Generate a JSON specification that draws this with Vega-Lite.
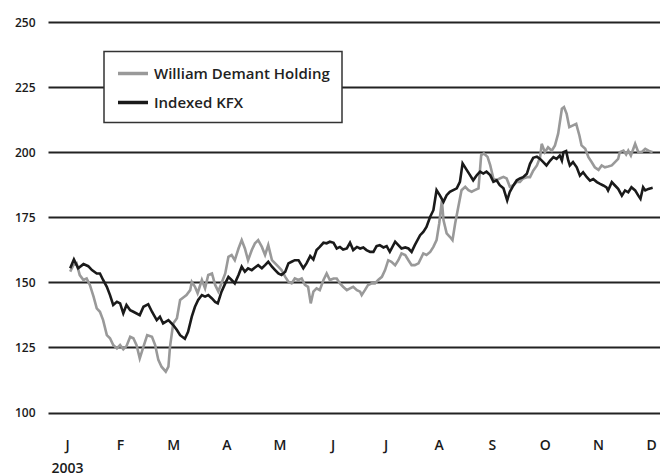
{
  "$schema": "https://vega.github.io/schema/vega-lite/v6.json",
  "width": 612,
  "height": 390.5,
  "autosize": "none",
  "padding": {"left": 48, "top": 22, "right": 0, "bottom": 63.5},
  "config": {"view": {"stroke": null}, "font": "Open Sans"},
  "datasets": {
    "wdh": [
      {"m":0.06,"v":154.1},{"m":0.12,"v":156.6},{"m":0.18,"v":157.3},{"m":0.24,"v":152.8},{"m":0.31,"v":150.9},{"m":0.37,"v":151.5},{"m":0.43,"v":149},{"m":0.5,"v":144.5},{"m":0.56,"v":140},{"m":0.62,"v":138.7},{"m":0.68,"v":135.5},{"m":0.75,"v":129.7},{"m":0.81,"v":128.5},{"m":0.87,"v":125.9},{"m":0.94,"v":124.6},{"m":1.0,"v":125.9},{"m":1.06,"v":124.3},{"m":1.12,"v":125.5},{"m":1.19,"v":129.1},{"m":1.25,"v":128.5},{"m":1.31,"v":125.9},{"m":1.37,"v":120.8},{"m":1.44,"v":125.3},{"m":1.51,"v":129.7},{"m":1.6,"v":129.1},{"m":1.66,"v":125.9},{"m":1.72,"v":120.2},{"m":1.78,"v":117.6},{"m":1.86,"v":115.7},{"m":1.91,"v":117.6},{"m":1.94,"v":125.3},{"m":2.0,"v":134.2},{"m":2.07,"v":136.2},{"m":2.13,"v":143.2},{"m":2.19,"v":144.2},{"m":2.25,"v":145.1},{"m":2.32,"v":147},{"m":2.35,"v":150.2},{"m":2.41,"v":148.3},{"m":2.46,"v":145.8},{"m":2.54,"v":150.9},{"m":2.6,"v":147.7},{"m":2.66,"v":152.8},{"m":2.73,"v":153.4},{"m":2.79,"v":149},{"m":2.85,"v":146.5},{"m":2.98,"v":153.4},{"m":3.04,"v":159.8},{"m":3.1,"v":160.5},{"m":3.16,"v":158.5},{"m":3.23,"v":163},{"m":3.29,"v":166.2},{"m":3.35,"v":163},{"m":3.41,"v":158.5},{"m":3.48,"v":162.4},{"m":3.54,"v":165},{"m":3.6,"v":166.2},{"m":3.67,"v":163.6},{"m":3.73,"v":160.5},{"m":3.79,"v":164.3},{"m":3.86,"v":158.5},{"m":3.92,"v":157.3},{"m":3.98,"v":156},{"m":4.04,"v":154.7},{"m":4.11,"v":152.1},{"m":4.17,"v":150.2},{"m":4.23,"v":149.6},{"m":4.29,"v":151.5},{"m":4.36,"v":150.9},{"m":4.42,"v":151.5},{"m":4.48,"v":149},{"m":4.54,"v":148.3},{"m":4.59,"v":141.9},{"m":4.64,"v":146.4},{"m":4.7,"v":147.7},{"m":4.76,"v":147},{"m":4.83,"v":150.9},{"m":4.89,"v":153.4},{"m":4.95,"v":150.9},{"m":5.02,"v":151.5},{"m":5.08,"v":151.5},{"m":5.14,"v":149.6},{"m":5.2,"v":148.3},{"m":5.27,"v":147},{"m":5.33,"v":147.7},{"m":5.39,"v":148.3},{"m":5.46,"v":147},{"m":5.52,"v":146.4},{"m":5.55,"v":145.1},{"m":5.61,"v":147},{"m":5.67,"v":149},{"m":5.74,"v":149.6},{"m":5.8,"v":149.6},{"m":5.86,"v":150.9},{"m":5.93,"v":152.1},{"m":5.99,"v":154.7},{"m":6.05,"v":158.5},{"m":6.11,"v":157.9},{"m":6.18,"v":156.6},{"m":6.24,"v":158.5},{"m":6.3,"v":161.1},{"m":6.37,"v":160.5},{"m":6.43,"v":158.5},{"m":6.49,"v":156.6},{"m":6.55,"v":156.6},{"m":6.62,"v":157.3},{"m":6.71,"v":161.1},{"m":6.77,"v":160.5},{"m":6.84,"v":161.7},{"m":6.9,"v":163.6},{"m":6.96,"v":166.2},{"m":7.01,"v":172.6},{"m":7.06,"v":181.5},{"m":7.09,"v":173.9},{"m":7.15,"v":168.8},{"m":7.21,"v":167.5},{"m":7.26,"v":166.2},{"m":7.31,"v":172.6},{"m":7.37,"v":179},{"m":7.43,"v":185.4},{"m":7.5,"v":186.7},{"m":7.56,"v":185.4},{"m":7.62,"v":184.8},{"m":7.68,"v":185.4},{"m":7.75,"v":186.1},{"m":7.8,"v":198.8},{"m":7.85,"v":199.5},{"m":7.92,"v":198.2},{"m":7.97,"v":195},{"m":8.03,"v":189.9},{"m":8.09,"v":189.2},{"m":8.15,"v":189.9},{"m":8.22,"v":190.5},{"m":8.28,"v":189.9},{"m":8.34,"v":186.7},{"m":8.41,"v":187.3},{"m":8.47,"v":188.6},{"m":8.53,"v":188.6},{"m":8.59,"v":189.9},{"m":8.66,"v":190.4},{"m":8.72,"v":190.4},{"m":8.78,"v":192.9},{"m":8.85,"v":194.9},{"m":8.91,"v":198.1},{"m":8.94,"v":203.2},{"m":9.0,"v":200},{"m":9.06,"v":201.9},{"m":9.13,"v":200.6},{"m":9.19,"v":202.6},{"m":9.25,"v":207.1},{"m":9.32,"v":216.7},{"m":9.36,"v":217.3},{"m":9.41,"v":214.7},{"m":9.46,"v":209.6},{"m":9.53,"v":210.3},{"m":9.59,"v":210.9},{"m":9.65,"v":206.4},{"m":9.69,"v":202.6},{"m":9.76,"v":201.3},{"m":9.82,"v":198.1},{"m":9.88,"v":196.2},{"m":9.94,"v":194.2},{"m":10.01,"v":193.2},{"m":10.07,"v":194.9},{"m":10.13,"v":194.2},{"m":10.19,"v":194.5},{"m":10.26,"v":194.9},{"m":10.32,"v":196.2},{"m":10.38,"v":197.4},{"m":10.41,"v":200},{"m":10.48,"v":200.6},{"m":10.53,"v":199.1},{"m":10.57,"v":200.6},{"m":10.62,"v":198.7},{"m":10.7,"v":203.2},{"m":10.76,"v":200},{"m":10.82,"v":200},{"m":10.89,"v":201.3},{"m":10.95,"v":200.6},{"m":11.03,"v":200}
    ],
    "kfx": [
      {"m":0.06,"v":155.4},{"m":0.13,"v":158.8},{"m":0.21,"v":155.4},{"m":0.31,"v":157},{"m":0.4,"v":156.2},{"m":0.47,"v":154.7},{"m":0.56,"v":153.4},{"m":0.62,"v":153.4},{"m":0.68,"v":150.9},{"m":0.75,"v":148.3},{"m":0.81,"v":145.1},{"m":0.87,"v":141.3},{"m":0.94,"v":142.5},{"m":1.0,"v":141.9},{"m":1.06,"v":138.1},{"m":1.12,"v":141.3},{"m":1.19,"v":139.3},{"m":1.25,"v":138.7},{"m":1.37,"v":137.4},{"m":1.44,"v":140.6},{"m":1.53,"v":141.6},{"m":1.6,"v":138.7},{"m":1.69,"v":135.5},{"m":1.75,"v":136.8},{"m":1.81,"v":134.2},{"m":1.91,"v":135.5},{"m":2.0,"v":133.6},{"m":2.07,"v":131.7},{"m":2.13,"v":129.7},{"m":2.22,"v":128.3},{"m":2.28,"v":131},{"m":2.35,"v":136.8},{"m":2.41,"v":140.6},{"m":2.47,"v":143.2},{"m":2.54,"v":145.1},{"m":2.6,"v":144.5},{"m":2.66,"v":145.1},{"m":2.73,"v":143.8},{"m":2.79,"v":142.5},{"m":2.84,"v":141.9},{"m":2.91,"v":146.4},{"m":2.98,"v":149.6},{"m":3.04,"v":152.1},{"m":3.1,"v":150.9},{"m":3.16,"v":149.6},{"m":3.23,"v":152.8},{"m":3.29,"v":156},{"m":3.35,"v":154.1},{"m":3.41,"v":155.4},{"m":3.48,"v":154.7},{"m":3.54,"v":155.7},{"m":3.6,"v":156.6},{"m":3.67,"v":155.4},{"m":3.73,"v":156.6},{"m":3.79,"v":157.9},{"m":3.86,"v":156},{"m":3.92,"v":154.7},{"m":3.98,"v":153.4},{"m":4.04,"v":152.8},{"m":4.11,"v":154.1},{"m":4.17,"v":157.3},{"m":4.23,"v":157.9},{"m":4.29,"v":158.5},{"m":4.36,"v":158.5},{"m":4.45,"v":155.4},{"m":4.51,"v":157.3},{"m":4.58,"v":160.1},{"m":4.64,"v":158.8},{"m":4.7,"v":162.4},{"m":4.76,"v":163.6},{"m":4.83,"v":165.2},{"m":4.89,"v":165},{"m":4.95,"v":165.6},{"m":5.02,"v":165.2},{"m":5.08,"v":163},{"m":5.14,"v":163.6},{"m":5.2,"v":162.6},{"m":5.27,"v":163},{"m":5.33,"v":165.2},{"m":5.39,"v":162.4},{"m":5.46,"v":163.6},{"m":5.52,"v":163},{"m":5.58,"v":163.4},{"m":5.64,"v":162.4},{"m":5.71,"v":161.7},{"m":5.77,"v":161.7},{"m":5.83,"v":163.9},{"m":5.89,"v":164.3},{"m":5.96,"v":163.4},{"m":6.02,"v":163.9},{"m":6.08,"v":161.7},{"m":6.18,"v":165.6},{"m":6.24,"v":164.3},{"m":6.3,"v":163},{"m":6.37,"v":163.4},{"m":6.43,"v":163},{"m":6.49,"v":161.7},{"m":6.55,"v":164.3},{"m":6.65,"v":168.1},{"m":6.71,"v":169.4},{"m":6.77,"v":171.3},{"m":6.84,"v":175.2},{"m":6.9,"v":177.7},{"m":6.96,"v":185.4},{"m":7.02,"v":183.5},{"m":7.09,"v":180.9},{"m":7.15,"v":183.5},{"m":7.21,"v":184.8},{"m":7.34,"v":186.1},{"m":7.4,"v":188.6},{"m":7.45,"v":195.7},{"m":7.53,"v":193.1},{"m":7.59,"v":191.2},{"m":7.65,"v":189.2},{"m":7.72,"v":191.2},{"m":7.78,"v":192.5},{"m":7.84,"v":191.8},{"m":7.9,"v":192.5},{"m":7.97,"v":191.2},{"m":8.03,"v":188.6},{"m":8.09,"v":189.2},{"m":8.15,"v":187.3},{"m":8.22,"v":186.1},{"m":8.29,"v":181.5},{"m":8.34,"v":184.8},{"m":8.41,"v":187.3},{"m":8.47,"v":189.2},{"m":8.53,"v":189.9},{"m":8.59,"v":190.4},{"m":8.66,"v":191.7},{"m":8.72,"v":195.5},{"m":8.78,"v":197.8},{"m":8.85,"v":198.3},{"m":8.91,"v":197.4},{"m":8.97,"v":196.2},{"m":9.03,"v":194.9},{"m":9.1,"v":196.8},{"m":9.16,"v":198.1},{"m":9.22,"v":197.4},{"m":9.28,"v":198.7},{"m":9.32,"v":196.8},{"m":9.35,"v":200},{"m":9.4,"v":200.4},{"m":9.44,"v":196.8},{"m":9.47,"v":194.9},{"m":9.53,"v":196.2},{"m":9.6,"v":194.2},{"m":9.66,"v":191},{"m":9.72,"v":192.3},{"m":9.79,"v":190.4},{"m":9.85,"v":189.1},{"m":9.91,"v":189.7},{"m":9.98,"v":188.5},{"m":10.04,"v":187.8},{"m":10.1,"v":187.2},{"m":10.16,"v":186.5},{"m":10.19,"v":185.3},{"m":10.26,"v":188.5},{"m":10.32,"v":187.2},{"m":10.38,"v":185.9},{"m":10.45,"v":183.3},{"m":10.51,"v":185.3},{"m":10.57,"v":184.6},{"m":10.63,"v":186.5},{"m":10.7,"v":185.3},{"m":10.76,"v":183.3},{"m":10.8,"v":182.1},{"m":10.85,"v":186.5},{"m":10.89,"v":185.3},{"m":10.95,"v":185.9},{"m":11.03,"v":186.3}
    ]
  },
  "encoding": {
    "x": {
      "field": "m", "type": "quantitative",
      "scale": {"domain": [-0.358, 11.168], "nice": false, "zero": false},
      "axis": {
        "title": null, "grid": false, "domain": false, "ticks": false,
        "values": [0,1,2,3,4,5,6,7,8,9,10,11],
        "labelExpr": "datum.value == 0 ? ['J','2003'] : ['J','F','M','A','M','J','J','A','S','O','N','D'][datum.value]",
        "labelFont": "Open Sans", "labelFontSize": 14, "labelFontWeight": 600, "labelColor": "#1a1a1a",
        "labelPadding": 26, "labelLineHeight": 23, "labelFlush": false, "labelOverlap": false
      }
    },
    "y": {
      "field": "v", "type": "quantitative",
      "scale": {"domain": [100, 250], "nice": false, "zero": false},
      "axis": {
        "title": null, "domain": false, "ticks": false,
        "values": [100,125,150,175,200,225,250],
        "grid": true, "gridColor": "#222", "gridWidth": 2, "gridOpacity": 1,
        "labelFont": "Open Sans", "labelFontSize": 12, "labelFontWeight": 600, "labelColor": "#1a1a1a",
        "labelPadding": 13
      }
    }
  },
  "layer": [
    {
      "data": {"name": "wdh"},
      "mark": {"type": "line", "strokeWidth": 2.6, "interpolate": "linear"},
      "encoding": {
        "color": {
          "datum": "William Demant Holding",
          "scale": {"domain": ["William Demant Holding", "Indexed KFX"], "range": ["#999999", "#1a1a1a"]},
          "legend": {
            "orient": "none", "legendX": 56, "legendY": 29.5, "title": null,
            "symbolType": "M-1,0H2.75", "symbolSize": 256, "symbolStrokeWidth": 3.5,
            "labelFont": "Open Sans", "labelFontSize": 15, "labelFontWeight": 600, "labelColor": "#222",
            "labelLimit": 400,
            "strokeColor": "#333", "fillColor": "white",
            "padding": 12, "rowPadding": 11, "labelOffset": 18,
            "encode": {"legend": {"update": {"strokeWidth": {"value": 1.5}}}}
          }
        }
      }
    },
    {
      "data": {"name": "kfx"},
      "mark": {"type": "line", "strokeWidth": 2.6, "interpolate": "linear"},
      "encoding": {
        "color": {"datum": "Indexed KFX"}
      }
    }
  ]
}
